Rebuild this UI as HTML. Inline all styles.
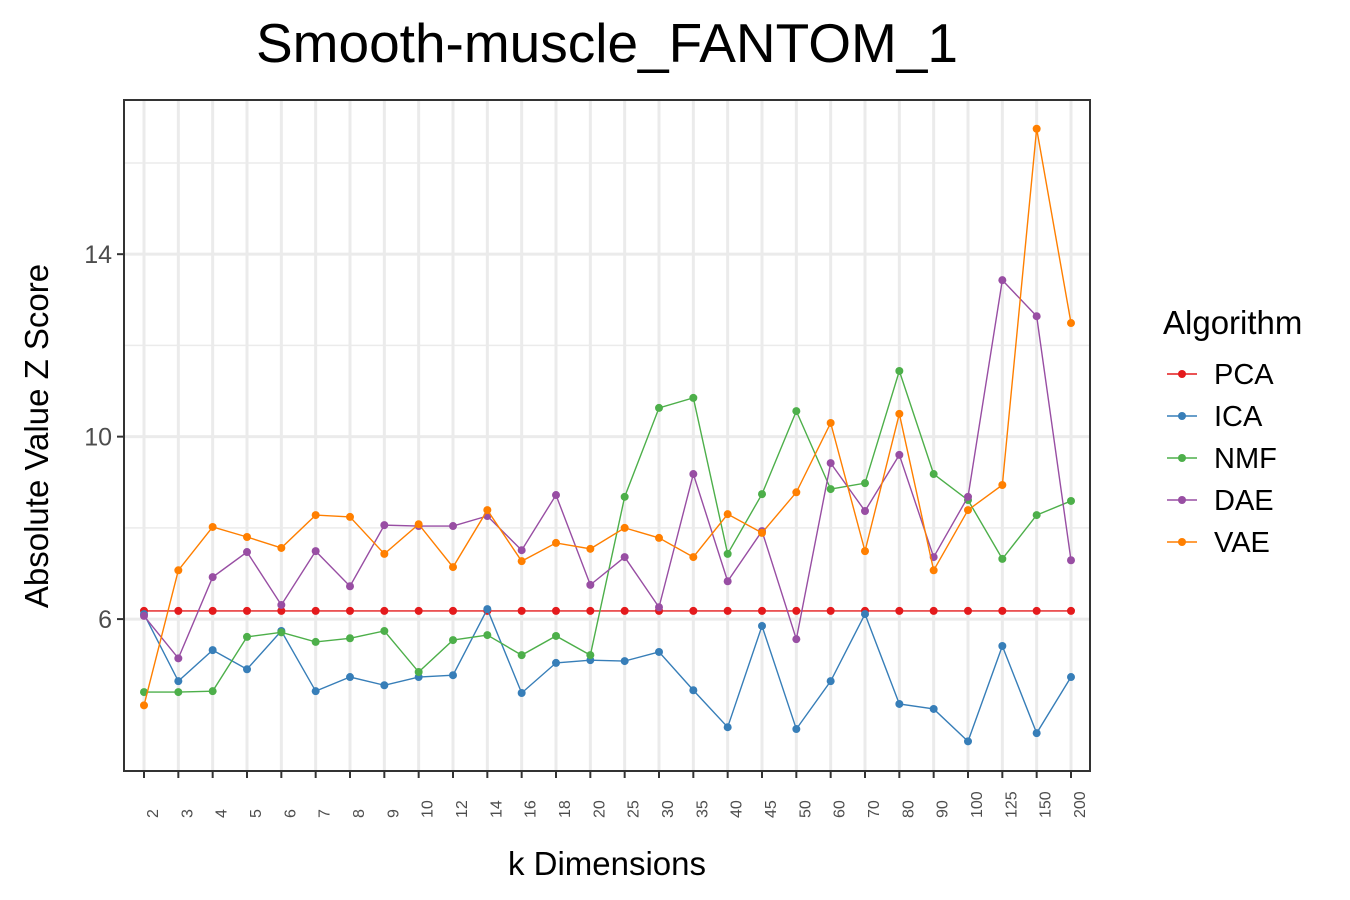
<!DOCTYPE html>
<html><head><meta charset="utf-8"><style>
body{margin:0;background:#fff;}
svg{display:block;font-family:"Liberation Sans",Arial,sans-serif;}
</style></head><body>
<svg id="chart" width="1350" height="900" viewBox="0 0 1350 900"></svg>
<script>
const categories=["2","3","4","5","6","7","8","9","10","12","14","16","18","20","25","30","35","40","45","50","60","70","80","90","100","125","150","200"];
const pcaValues=[6.18,6.18,6.18,6.18,6.18,6.18,6.18,6.18,6.18,6.18,6.18,6.18,6.18,6.18,6.18,6.18,6.18,6.18,6.18,6.18,6.18,6.18,6.18,6.18,6.18,6.18,6.18,6.18];
const icaValues=[6.11,4.64,5.32,4.90,5.74,4.42,4.73,4.55,4.73,4.77,6.22,4.38,5.04,5.10,5.08,5.28,4.44,3.63,5.85,3.59,4.64,6.11,4.14,4.03,3.32,5.41,3.50,4.73];
const nmfValues=[4.40,4.40,4.42,5.61,5.71,5.50,5.58,5.74,4.84,5.54,5.65,5.21,5.63,5.21,8.68,10.63,10.85,7.43,8.74,10.56,8.85,8.98,11.44,9.18,8.61,7.32,8.28,8.59];
const daeValues=[6.07,5.14,6.92,7.47,6.31,7.49,6.72,8.06,8.04,8.04,8.26,7.51,8.72,6.75,7.36,6.26,9.18,6.83,7.93,5.56,9.42,8.37,9.60,7.36,8.68,13.43,12.64,7.29];
const vaeValues=[4.11,7.07,8.02,7.80,7.56,8.28,8.24,7.43,8.08,7.14,8.39,7.27,7.67,7.54,8.00,7.78,7.36,8.30,7.89,8.78,10.30,7.49,10.50,7.07,8.39,8.94,16.75,12.49];
const seriesNames=["PCA","ICA","NMF","DAE","VAE"];
const yTicks=[6,10,14];
const yMinor=[8,12,16];
</script>
<script>
const NS="http://www.w3.org/2000/svg";
const svg=document.getElementById('chart');
const colors=["#E41A1C","#377EB8","#4DAF4A","#984EA3","#FF7F00"];
const allSeries=[pcaValues,icaValues,nmfValues,daeValues,vaeValues];
const L=124,R=1090,T=100,B=771;
const yMin=2.67,yMax=17.38;
function y(v){return B-(v-yMin)/(yMax-yMin)*(B-T);}
const n=categories.length;
const x0=144,x1=1071;
function x(i){return x0+i*(x1-x0)/(n-1);}
function mk(tag,attrs,parent){const e=document.createElementNS(NS,tag);for(const k in attrs)e.setAttribute(k,attrs[k]);(parent||svg).appendChild(e);return e;}
let t=mk('text',{x:607,y:62,'font-size':55,'text-anchor':'middle',fill:'#000'});t.textContent="Smooth-muscle_FANTOM_1";


yMinor.forEach(v=>{const l=mk('line',{x1:L,x2:R,y1:y(v),y2:y(v),stroke:'#ebebeb','stroke-width':1.5});

});
yTicks.forEach(v=>{const l=mk('line',{x1:L,x2:R,y1:y(v),y2:y(v),stroke:'#ebebeb','stroke-width':3});

});
categories.forEach((c,i)=>{const l=mk('line',{x1:x(i),x2:x(i),y1:T,y2:B,stroke:'#ebebeb','stroke-width':3});

});
allSeries.forEach((vals,s)=>{
 const g=mk('g',{});
 
 
 const pts=vals.map((v,i)=>x(i)+','+y(v)).join(' ');
 const pl=mk('polyline',{points:pts,fill:'none',stroke:colors[s],'stroke-width':1.4},g);
 
 
 vals.forEach((v,i)=>{const c=mk('circle',{cx:x(i),cy:y(v),r:4,fill:colors[s]},g);
 
 });
});
const frame=mk('rect',{x:L,y:T,width:R-L,height:B-T,fill:'none',stroke:'#333','stroke-width':2});


yTicks.forEach(v=>{mk('line',{x1:L-7,x2:L,y1:y(v),y2:y(v),stroke:'#333','stroke-width':2});
 const tx=mk('text',{x:L-12,y:y(v)+9,'font-size':25,'text-anchor':'end',fill:'#4d4d4d'});tx.textContent=v;
 
 });
categories.forEach((c,i)=>{mk('line',{x1:x(i),x2:x(i),y1:B,y2:B+7,stroke:'#333','stroke-width':2});
 const tx=mk('text',{x:0,y:0,'font-size':16,'text-anchor':'start',fill:'#4d4d4d',transform:`translate(${x(i)+14},${B+47}) rotate(-90)`});tx.textContent=c;
 
 });
t=mk('text',{x:607,y:875,'font-size':33,'text-anchor':'middle',fill:'#000'});t.textContent="k Dimensions";


t=mk('text',{x:0,y:0,'font-size':33,'text-anchor':'middle',fill:'#000',transform:'translate(48,436) rotate(-90)'});t.textContent="Absolute Value Z Score";


t=mk('text',{x:1163,y:334,'font-size':33,fill:'#000'});t.textContent="Algorithm";


seriesNames.forEach((nm,s)=>{const yy=374+s*42;const g=mk('g',{});
 
 
 mk('line',{x1:1167,x2:1197,y1:yy,y2:yy,stroke:colors[s],'stroke-width':1.4},g);
 mk('circle',{cx:1182,cy:yy,r:4,fill:colors[s]},g);
 const tx=mk('text',{x:1214,y:yy+10,'font-size':29,fill:'#000'},g);tx.textContent=nm;});
</script>
</body></html>
